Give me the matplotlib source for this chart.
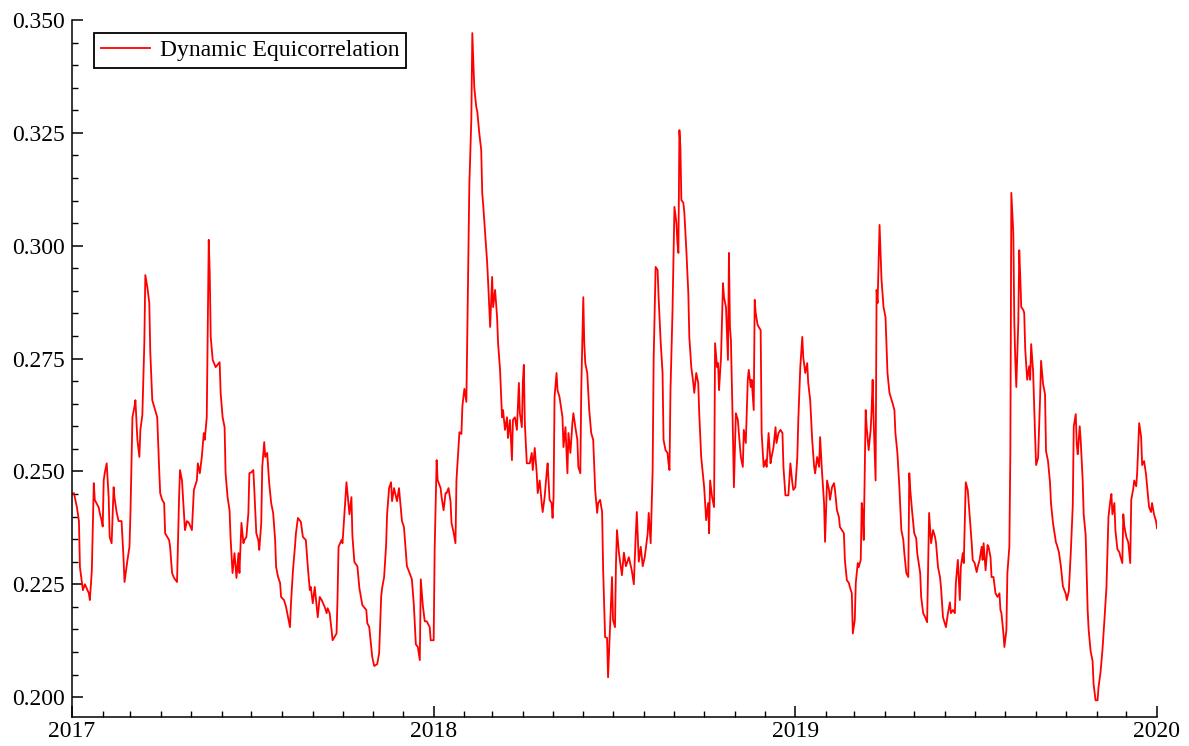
import numpy as np
import matplotlib
matplotlib.use("Agg")
import matplotlib.pyplot as plt
import matplotlib.dates as mdates
from matplotlib.ticker import MultipleLocator, FormatStrFormatter

plt.rcParams['font.family'] = ['Liberation Serif', 'DejaVu Serif']

# days since 2017-01-01 and the dynamic equicorrelation on that day
day_offset = [
    0, 2, 5, 7, 8, 11, 13, 17, 18, 20, 22, 23, 27, 28, 30, 31, 32, 33, 35, 37,
    38, 40, 42, 43, 45, 47, 50, 52, 53, 56, 58, 59, 61, 63, 64, 66, 68, 69, 71, 73,
    74, 76, 78, 79, 81, 83, 84, 86, 88, 89, 91, 93, 94, 98, 99, 101, 103, 106, 108, 109,
    111, 113, 114, 116, 118, 121, 123, 126, 127, 129, 131, 133, 134, 136, 138, 139, 140, 142, 145, 149,
    150, 152, 154, 155, 157, 159, 160, 162, 164, 166, 168, 169, 171, 173, 174, 176, 178, 179, 181, 183,
    184, 186, 188, 189, 191, 192, 194, 195, 197, 199, 201, 203, 205, 206, 208, 210, 211, 214, 216, 220,
    221, 223, 225, 226, 228, 231, 233, 236, 238, 240, 241, 243, 245, 246, 248, 250, 252, 255, 257, 258,
    260, 262, 263, 267, 268, 269, 272, 273, 275, 277, 280, 282, 283, 285, 288, 290, 293, 297, 298, 300,
    302, 303, 305, 308, 310, 312, 313, 315, 317, 318, 320, 322, 323, 325, 327, 328, 330, 332, 333, 335,
    337, 338, 340, 343, 345, 347, 349, 351, 352, 354, 356, 358, 361, 362, 365,
    366, 368, 369, 372, 373, 375, 377, 378, 380, 382, 383, 385, 387, 388, 391, 393, 394, 396, 398, 399,
    401, 403, 404, 406, 408, 409, 411, 413, 414, 415, 419, 420, 422, 424, 425, 427, 429, 430, 432, 434,
    435, 437, 439, 440, 442, 444, 445, 447, 449, 450, 451, 452, 454, 455, 456, 457, 459, 462, 464, 465,
    467, 469, 470, 472, 474, 475, 477, 479, 480, 482, 484, 485, 486, 487, 489, 490, 492, 495, 496, 498,
    500, 501, 503, 505, 506, 508, 510, 511, 513, 514, 516, 517, 518, 520, 522, 524, 526, 528, 530, 531,
    533, 535, 536, 538, 540, 541, 543, 545, 546, 548, 549, 550, 552, 555, 557, 559, 562, 565, 567, 569,
    570, 572, 574, 576, 578, 581, 582, 584, 586, 587, 589, 591, 592, 594, 596, 597, 599, 601, 602, 603,
    604, 606, 608, 610, 611, 612, 613, 614, 615, 617, 618, 620, 622, 623, 625, 627, 628, 630, 632, 633,
    635, 637, 638, 640, 642, 643, 644, 646, 648, 649, 651, 652, 653, 655, 657, 658, 660, 662, 663, 664,
    665, 667, 668, 670, 672, 673, 675, 677, 678, 680, 682, 683, 685, 686, 688, 689, 690, 692, 695, 696,
    698, 700, 701, 703, 705, 706, 708, 710, 711, 713, 715, 717, 718, 720, 723, 725, 727, 728, 730,
    732, 733, 735, 737, 738, 740, 742, 743, 745, 747, 749, 750, 752, 754, 755, 757, 759, 760, 762, 764,
    765, 767, 769, 770, 772, 774, 775, 777, 779, 780, 782, 784, 785, 787, 788, 790, 791, 793, 794, 796,
    797, 798, 799, 801, 802, 804, 806, 807, 808, 809, 811, 812, 813, 815, 816, 817, 819, 821, 823, 825,
    828, 830, 831, 833, 835, 837, 839, 840, 842, 844, 845, 846, 848, 850, 852, 853, 856, 857, 859, 861,
    863, 865, 867, 869, 871, 872, 874, 876, 877, 879, 882, 884, 886, 887, 889, 891, 892, 894, 896, 897,
    899, 900, 902, 904, 906, 908, 909, 911, 913, 914, 916, 918, 919, 920, 922, 924, 925, 927, 928, 930,
    932, 934, 936, 937, 938, 940, 941, 943, 944, 946, 947, 948, 950, 951, 952, 953, 955, 956, 957, 958,
    960, 961, 962, 964, 966, 967, 968, 970, 972, 973, 975, 977, 978, 980, 982, 983, 985, 987, 988, 990,
    993, 994, 996, 998, 1000, 1003, 1004, 1006, 1008, 1010, 1011, 1013, 1014, 1015, 1017, 1018, 1020, 1021, 1023, 1025,
    1026, 1028, 1030, 1031, 1033, 1035, 1036, 1038, 1040, 1042, 1044, 1046, 1048, 1049, 1050, 1052, 1053, 1055, 1057, 1058,
    1060, 1061, 1062, 1064, 1066, 1068, 1069, 1071, 1072, 1074, 1075, 1077, 1079, 1080, 1082, 1084, 1085, 1087, 1089, 1090,
    1092, 1094, 1095,
]

equicorr = [
    0.2450, 0.2452, 0.2420, 0.2390, 0.2288, 0.2237, 0.2250, 0.2230, 0.2215, 0.2280, 0.2474, 0.2437, 0.2420, 0.2408, 0.2390, 0.2378, 0.2480, 0.2496, 0.2518, 0.2443,
    0.2355, 0.2341, 0.2465, 0.2440, 0.2410, 0.2390, 0.2390, 0.2308, 0.2255, 0.2304, 0.2333, 0.2408, 0.2620, 0.2643, 0.2658, 0.2570, 0.2532, 0.2592, 0.2625, 0.2784,
    0.2935, 0.2909, 0.2873, 0.2765, 0.2658, 0.2643, 0.2636, 0.2620, 0.2503, 0.2452, 0.2437, 0.2430, 0.2363, 0.2348, 0.2333, 0.2275, 0.2264, 0.2255, 0.2437, 0.2503,
    0.2480, 0.2408, 0.2370, 0.2390, 0.2386, 0.2370, 0.2459, 0.2480, 0.2518, 0.2496, 0.2532, 0.2585, 0.2570, 0.2620, 0.3013, 0.2940, 0.2798, 0.2747, 0.2731, 0.2742,
    0.2674, 0.2620, 0.2598, 0.2496, 0.2443, 0.2414, 0.2355, 0.2275, 0.2319, 0.2264, 0.2319, 0.2275, 0.2386, 0.2341, 0.2348, 0.2355, 0.2408, 0.2496, 0.2498, 0.2503,
    0.2459, 0.2363, 0.2348, 0.2326, 0.2386, 0.2510, 0.2565, 0.2532, 0.2541, 0.2474, 0.2430, 0.2408, 0.2348, 0.2288, 0.2266, 0.2253, 0.2222, 0.2215, 0.2200, 0.2155,
    0.2208, 0.2281, 0.2333, 0.2363, 0.2397, 0.2388, 0.2355, 0.2348, 0.2288, 0.2237, 0.2244, 0.2208, 0.2244, 0.2222, 0.2177, 0.2222, 0.2215, 0.2200, 0.2186, 0.2197,
    0.2186, 0.2148, 0.2126, 0.2141, 0.2222, 0.2333, 0.2348, 0.2341, 0.2408, 0.2476, 0.2405, 0.2443, 0.2357, 0.2299, 0.2290, 0.2242, 0.2204, 0.2193, 0.2164, 0.2155,
    0.2111, 0.2089, 0.2069, 0.2073, 0.2098, 0.2222, 0.2242, 0.2266, 0.2337, 0.2405, 0.2463, 0.2476, 0.2434, 0.2463, 0.2443, 0.2434, 0.2463, 0.2414, 0.2390, 0.2377,
    0.2319, 0.2290, 0.2279, 0.2261, 0.2204, 0.2117, 0.2111, 0.2082, 0.2261, 0.2204, 0.2168, 0.2168, 0.2155, 0.2126, 0.2126,
    0.2328, 0.2525, 0.2481, 0.2463, 0.2443, 0.2414, 0.2452, 0.2452, 0.2463, 0.2434, 0.2386, 0.2366, 0.2341, 0.2481, 0.2587, 0.2583, 0.2645, 0.2683, 0.2654, 0.2818,
    0.3135, 0.3279, 0.3471, 0.3350, 0.3307, 0.3298, 0.3250, 0.3212, 0.3117, 0.3090, 0.2962, 0.2917, 0.2820, 0.2931, 0.2864, 0.2902, 0.2842, 0.2784, 0.2725, 0.2620,
    0.2636, 0.2592, 0.2620, 0.2574, 0.2614, 0.2525, 0.2614, 0.2620, 0.2592, 0.2643, 0.2696, 0.2629, 0.2598, 0.2698, 0.2736, 0.2607, 0.2518, 0.2518, 0.2541, 0.2503,
    0.2552, 0.2496, 0.2452, 0.2480, 0.2430, 0.2410, 0.2443, 0.2496, 0.2518, 0.2437, 0.2430, 0.2397, 0.2443, 0.2665, 0.2718, 0.2680, 0.2665, 0.2620, 0.2554, 0.2598,
    0.2496, 0.2585, 0.2541, 0.2607, 0.2629, 0.2598, 0.2570, 0.2510, 0.2496, 0.2687, 0.2886, 0.2784, 0.2740, 0.2718, 0.2636, 0.2585, 0.2570, 0.2459, 0.2408, 0.2430,
    0.2437, 0.2410, 0.2286, 0.2133, 0.2131, 0.2044, 0.2155, 0.2266, 0.2171, 0.2155, 0.2297, 0.2370, 0.2319, 0.2270, 0.2320, 0.2290, 0.2310, 0.2280, 0.2250, 0.2363,
    0.2410, 0.2300, 0.2333, 0.2290, 0.2310, 0.2363, 0.2408, 0.2341, 0.2503, 0.2747, 0.2953, 0.2946, 0.2886, 0.2791, 0.2718, 0.2570, 0.2547, 0.2541, 0.2518, 0.2503,
    0.2680, 0.2851, 0.3086, 0.3050, 0.3006, 0.2984, 0.3256, 0.3219, 0.3101, 0.3095, 0.3073, 0.2990, 0.2895, 0.2798, 0.2731, 0.2696, 0.2674, 0.2718, 0.2696, 0.2629,
    0.2532, 0.2487, 0.2465, 0.2392, 0.2430, 0.2363, 0.2480, 0.2443, 0.2421, 0.2784, 0.2731, 0.2740, 0.2680, 0.2753, 0.2917, 0.2886, 0.2864, 0.2747, 0.2984, 0.2820,
    0.2791, 0.2585, 0.2465, 0.2629, 0.2614, 0.2585, 0.2532, 0.2510, 0.2592, 0.2563, 0.2703, 0.2725, 0.2687, 0.2703, 0.2636, 0.2880, 0.2851, 0.2824, 0.2813, 0.2585,
    0.2510, 0.2525, 0.2510, 0.2585, 0.2518, 0.2532, 0.2554, 0.2598, 0.2563, 0.2585, 0.2592, 0.2585, 0.2510, 0.2447, 0.2447, 0.2518, 0.2474, 0.2459, 0.2465,
    0.2532, 0.2614, 0.2731, 0.2798, 0.2753, 0.2718, 0.2740, 0.2696, 0.2658, 0.2570, 0.2510, 0.2496, 0.2532, 0.2510, 0.2576, 0.2496, 0.2430, 0.2344, 0.2480, 0.2459,
    0.2437, 0.2465, 0.2474, 0.2459, 0.2414, 0.2399, 0.2377, 0.2370, 0.2363, 0.2304, 0.2259, 0.2253, 0.2244, 0.2230, 0.2141, 0.2171, 0.2253, 0.2297, 0.2288, 0.2304,
    0.2430, 0.2408, 0.2348, 0.2636, 0.2598, 0.2547, 0.2592, 0.2636, 0.2703, 0.2614, 0.2480, 0.2902, 0.2873, 0.3046, 0.2984, 0.2924, 0.2864, 0.2842, 0.2718, 0.2674,
    0.2652, 0.2636, 0.2585, 0.2541, 0.2465, 0.2370, 0.2348, 0.2319, 0.2275, 0.2266, 0.2496, 0.2459, 0.2408, 0.2363, 0.2352, 0.2319, 0.2275, 0.2222, 0.2186, 0.2177,
    0.2166, 0.2408, 0.2341, 0.2370, 0.2355, 0.2341, 0.2288, 0.2266, 0.2244, 0.2177, 0.2155, 0.2186, 0.2210, 0.2186, 0.2193, 0.2186, 0.2253, 0.2304, 0.2215, 0.2288,
    0.2319, 0.2297, 0.2476, 0.2459, 0.2399, 0.2341, 0.2304, 0.2297, 0.2277, 0.2288, 0.2304, 0.2333, 0.2304, 0.2341, 0.2281, 0.2337, 0.2333, 0.2310, 0.2266, 0.2266,
    0.2230, 0.2222, 0.2230, 0.2193, 0.2186, 0.2141, 0.2111, 0.2148, 0.2275, 0.2333, 0.2541, 0.3117, 0.3028, 0.2829, 0.2747, 0.2687, 0.2829, 0.2990, 0.2931, 0.2864,
    0.2858, 0.2851, 0.2771, 0.2703, 0.2733, 0.2703, 0.2782, 0.2720, 0.2576, 0.2514, 0.2530, 0.2663, 0.2745, 0.2694, 0.2671, 0.2545, 0.2523, 0.2476, 0.2430, 0.2386,
    0.2343, 0.2337, 0.2321, 0.2290, 0.2246, 0.2228, 0.2215, 0.2235, 0.2321, 0.2425, 0.2600, 0.2627, 0.2560, 0.2538, 0.2600, 0.2569, 0.2480, 0.2405, 0.2359, 0.2193,
    0.2150, 0.2102, 0.2080, 0.2029, 0.1993, 0.1993, 0.2022, 0.2055, 0.2106, 0.2173, 0.2244, 0.2399, 0.2437, 0.2450, 0.2405, 0.2430, 0.2370, 0.2328, 0.2321, 0.2312,
    0.2297, 0.2405, 0.2379, 0.2355, 0.2343, 0.2297, 0.2437, 0.2461, 0.2480, 0.2467, 0.2498, 0.2607, 0.2576, 0.2514, 0.2523, 0.2492, 0.2467, 0.2421, 0.2410, 0.2430,
    0.2405, 0.2390, 0.2374,
]

dates = np.datetime64('2017-01-01') + np.array(day_offset).astype('timedelta64[D]')

fig = plt.figure(figsize=(11.89, 7.46), dpi=100)
ax = fig.add_axes([72 / 1189, 29 / 746, 1085 / 1189, 697 / 746])

ax.plot(dates, equicorr, color='red', lw=1.3, label='Dynamic Equicorrelation')

ax.set_xlim(np.datetime64('2017-01-01'), np.datetime64('2020-01-01'))
ax.set_ylim(0.1956, 0.350)

ax.xaxis.set_major_locator(mdates.YearLocator())
ax.xaxis.set_major_formatter(mdates.DateFormatter('%Y'))
ax.xaxis.set_minor_locator(mdates.MonthLocator())
ax.yaxis.set_major_locator(MultipleLocator(0.025))
ax.yaxis.set_minor_locator(MultipleLocator(0.005))
ax.yaxis.set_major_formatter(FormatStrFormatter('%.3f'))

for side in ('top', 'right'):
    ax.spines[side].set_visible(False)
for side in ('left', 'bottom'):
    ax.spines[side].set_linewidth(1.1)

ax.tick_params(which='major', direction='in', length=8, width=1.1, labelsize=17)
ax.tick_params(which='minor', direction='in', length=4, width=1.0)
ax.tick_params(axis='y', which='major', pad=5)
ax.tick_params(axis='x', which='major', pad=3)

leg = ax.legend(loc='upper left', bbox_to_anchor=(22 / 1085, 1 - 13 / 697),
                borderaxespad=0, fancybox=False, edgecolor='black', framealpha=1,
                fontsize=17, handlelength=2.1, handletextpad=0.4,
                borderpad=0.28)
leg.get_frame().set_linewidth(1.3)

fig.savefig('out.png', dpi=100)
